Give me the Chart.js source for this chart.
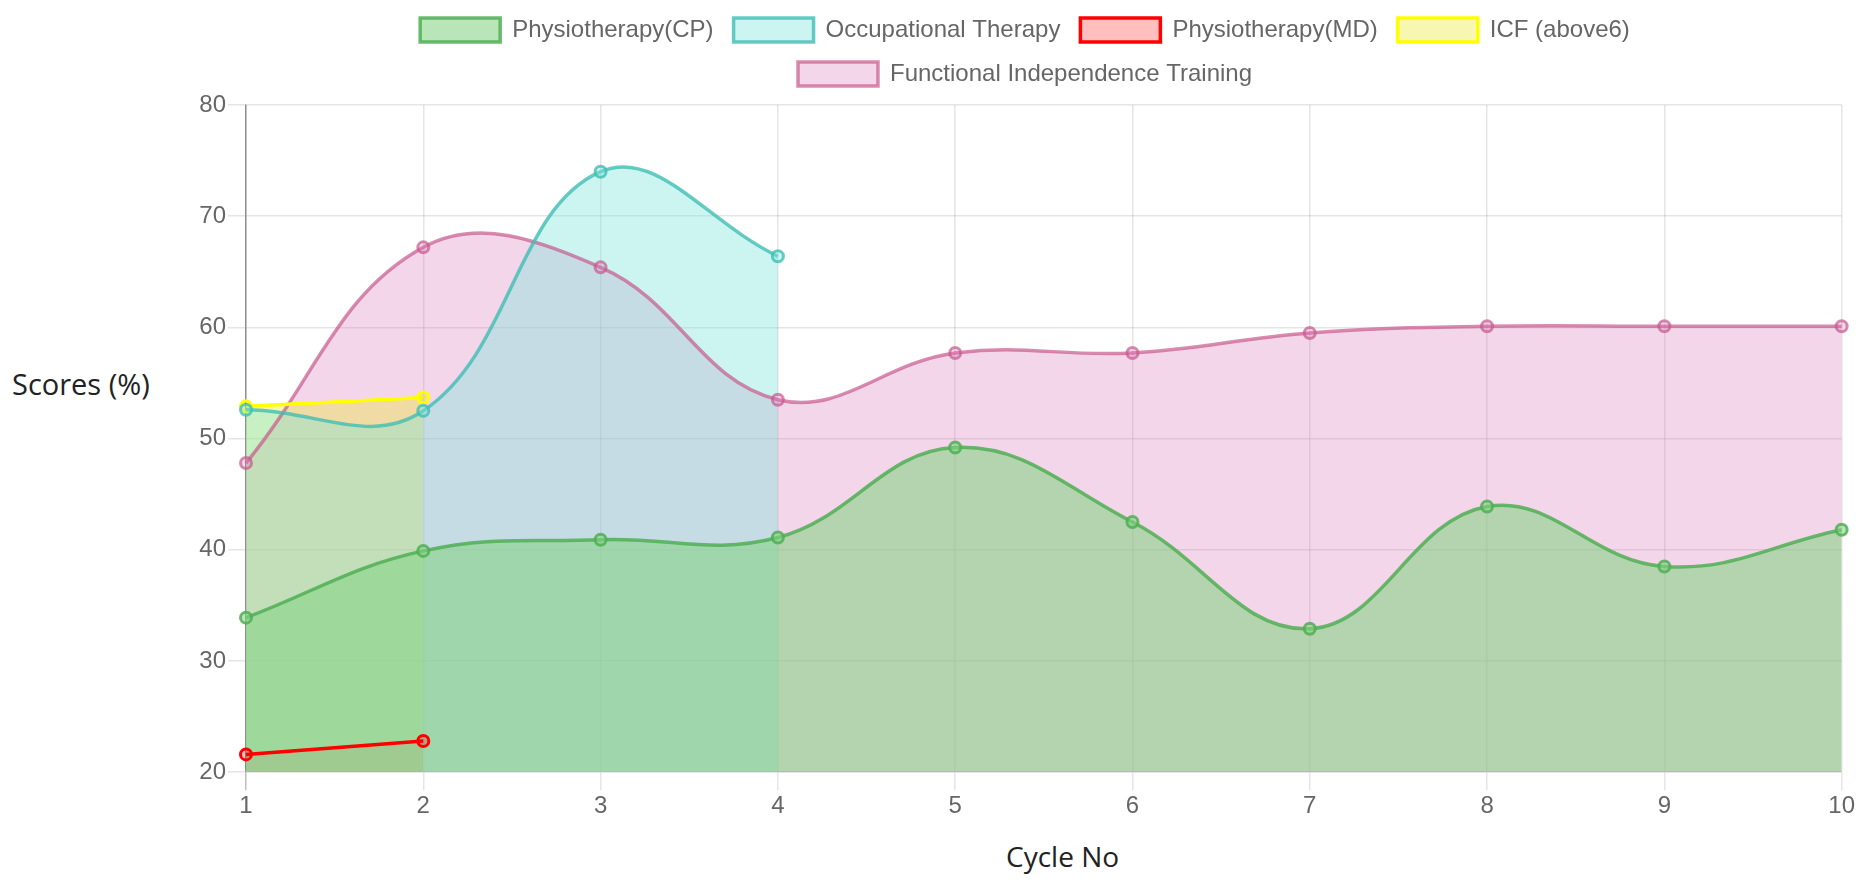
<!DOCTYPE html>
<html>
<head>
<meta charset="utf-8">
<script src="https://cdn.jsdelivr.net/npm/chart.js@4.4.0/dist/chart.umd.min.js"></script>
<style>
  body { margin: 0; background: #fff; }
  #wrap { position: relative; width: 1869px; height: 881px; overflow: hidden; }
  #box { position: absolute; left: 193px; top: -2px; width: 1664px; height: 825px; }
  .title { position: absolute; font-family: 'Open Sans', sans-serif; font-size: 29px; color: #222; white-space: nowrap; }
  #ytitle { left: 12px; top: 364px; }
  #xtitle { left: 1006px; top: 837px; font-size: 28px; }
</style>
</head>
<body>
<div id="wrap">
  <div id="ytitle" class="title">Scores (%)</div>
  <div id="box"><canvas id="scoresChart"></canvas></div>
  <div id="xtitle" class="title">Cycle No</div>
</div>
<script>
// Cycle numbers on the x axis
var cycles = ['1', '2', '3', '4', '5', '6', '7', '8', '9', '10'];

// Scores per therapy (null = no session)
var physioCP = [33.9, 39.9, 40.9, 41.1, 49.2, 42.5, 32.9, 43.9, 38.5, 41.8];
var occupational = [52.6, 52.5, 74.0, 66.4, null, null, null, null, null, null];
var physioMD = [21.6, 22.8, null, null, null, null, null, null, null, null];
var icfAbove6 = [52.9, 53.7, null, null, null, null, null, null, null, null];
var functionalIndep = [47.8, 67.2, 65.4, 53.5, 57.7, 57.7, 59.5, 60.1, 60.1, 60.1];

// Y axis range
var yMin = 20, yMax = 80, yStep = 10;

Chart.defaults.font.family = "'Liberation Sans', Arial, sans-serif";
Chart.defaults.font.size = 24;
Chart.defaults.color = '#666';

function series(label, data, border, fill) {
    return {
        label: label,
        data: data,
        borderColor: border,
        backgroundColor: fill,
        pointBackgroundColor: fill,
        pointBorderColor: border,
        borderWidth: 3.5,
        pointRadius: 5.5,
        pointBorderWidth: 3,
        tension: 0.4,
        fill: 'origin'
    };
}

// pushes the plot down a little below the legend
var legendGap = {
    id: 'legendGap',
    beforeInit: function (chart) {
        var fit = chart.legend.fit;
        chart.legend.fit = function () {
            fit.bind(chart.legend)();
            this.height += 9;
        };
    }
};

var ctx = document.getElementById('scoresChart').getContext('2d');
var scoresChart = new Chart(ctx, {
    type: 'line',
    data: {
        labels: cycles,
        datasets: [
            series('Physiotherapy(CP)', physioCP, 'rgba(80,175,85,0.85)', 'rgba(130,211,130,0.57)'),
            series('Occupational Therapy', occupational, 'rgba(64,190,180,0.8)', 'rgba(128,230,220,0.4)'),
            series('Physiotherapy(MD)', physioMD, '#ff0000', 'rgba(255,0,0,0.25)'),
            series('ICF (above6)', icfAbove6, '#ffff00', 'rgba(230,230,0,0.3)'),
            series('Functional Independence Training', functionalIndep, 'rgba(200,90,140,0.7)', 'rgba(220,120,190,0.3)')
        ]
    },
    options: {
        responsive: true,
        maintainAspectRatio: false,
        animation: false,
        plugins: {
            filler: { drawTime: 'beforeDatasetsDraw' },
            legend: {
                position: 'top',
                labels: {
                    boxWidth: 80,
                    boxHeight: 24,
                    padding: 20,
                    font: { size: 24 }
                }
            },
            tooltip: { enabled: false }
        },
        scales: {
            x: {
                grid: {
                    color: function (c) { return c.index === 0 ? 'rgba(0,0,0,0.25)' : 'rgba(0,0,0,0.1)'; },
                    lineWidth: 1.5,
                    tickLength: 18
                },
                border: { color: 'rgba(0,0,0,0.1)', width: 1.5 },
                ticks: { padding: 2, maxRotation: 0 }
            },
            y: {
                min: yMin,
                max: yMax,
                afterFit: function (scale) { scale.width = 53; },
                grid: {
                    color: 'rgba(0,0,0,0.1)',
                    lineWidth: 1.5,
                    tickLength: 18
                },
                border: { color: 'rgba(0,0,0,0.25)', width: 1.5 },
                ticks: { stepSize: yStep, padding: 2 }
            }
        }
    },
    plugins: [legendGap]
});
</script>
</body>
</html>
